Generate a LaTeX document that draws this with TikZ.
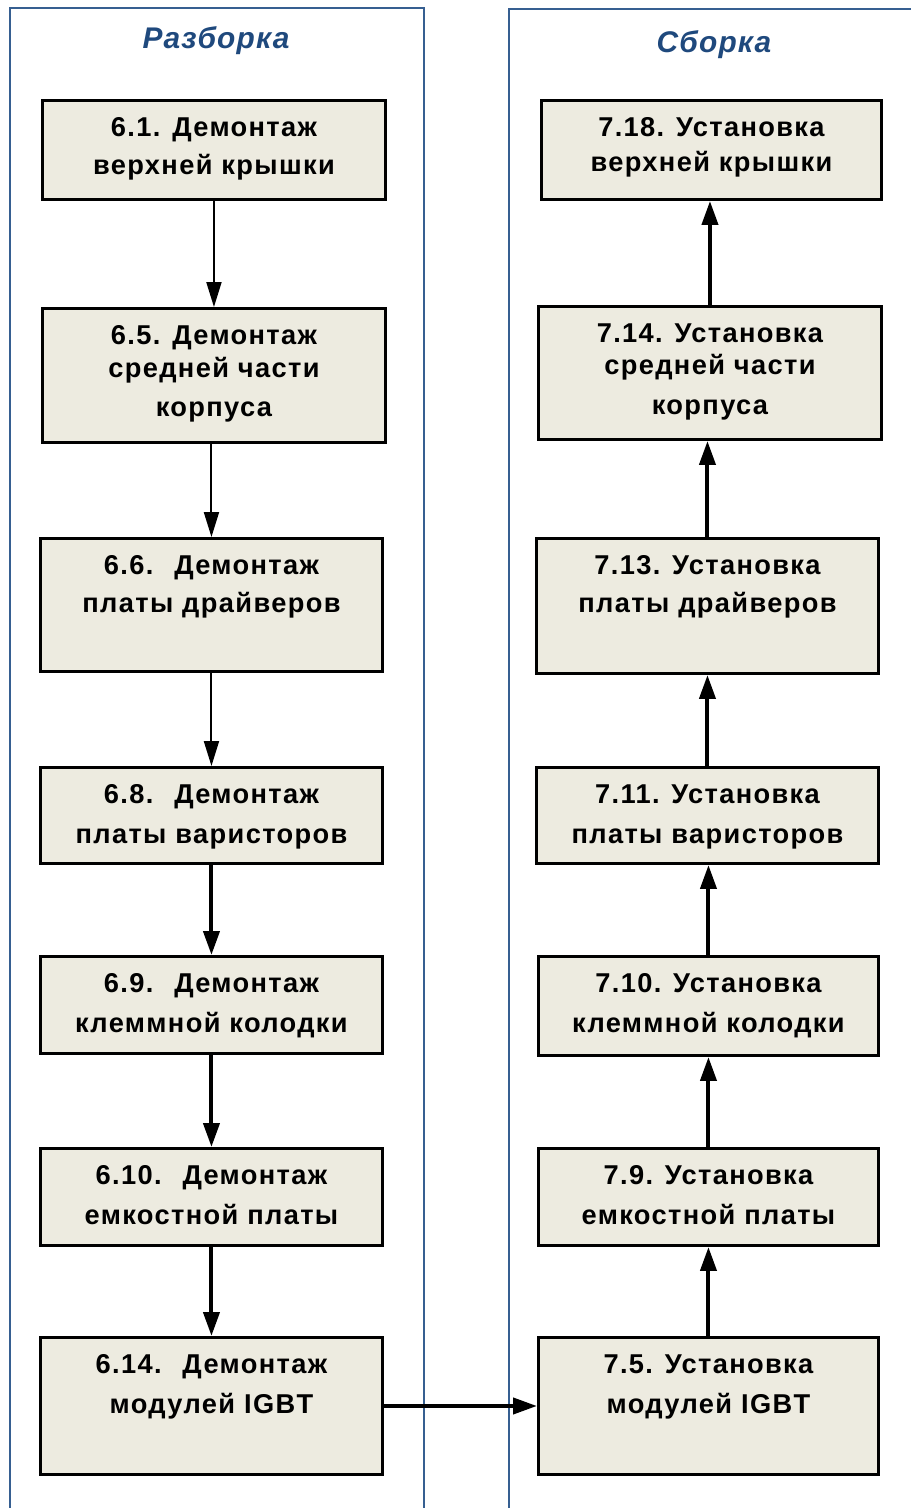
\documentclass[tikz,border=0pt]{standalone}
\usepackage{fontspec}
\setmainfont{Liberation Sans}
\usepackage{tikz}
\usetikzlibrary{arrows.meta, positioning}
\definecolor{panel}{RGB}{54, 95, 145}
\definecolor{heading}{RGB}{31, 73, 125}
\definecolor{boxfill}{RGB}{237, 235, 224}

\tikzset{
  stage/.style={draw=black, line width=1.7pt, fill=boxfill, anchor=north west, inner sep=0pt},
  stagetext/.style={anchor=north, align=center, inner sep=0pt, yshift=-0.36cm,
    font=\fontsize{15.5}{21.5}\selectfont\bfseries\addfontfeature{LetterSpace=5}},
  heading/.style={anchor=base, text=heading, inner sep=0pt,
    font=\fontsize{17}{20}\selectfont\bfseries\itshape\addfontfeature{LetterSpace=4}},
  panelline/.style={draw=panel, line width=1.1pt},
  thinarrow/.style={line width=1.1pt, -{Triangle[length=0.5cm, width=0.3cm]}},
  thickarrow/.style={line width=2.3pt, -{Triangle[length=0.48cm, width=0.32cm]}}
}

\begin{document}
\begin{tikzpicture}[x=0.02cm, y=-0.02cm]
  \useasboundingbox (0,0) rectangle (911,1508);

  \draw[panelline] (10,1520) -- (10,8) -- (424,8) -- (424,1520);
  \draw[panelline] (509,1520) -- (509,9) -- (920,9);
  \node[heading] (hdis) at (216,48) {Разборка};
  \node[heading] (hass) at (714,52) {Сборка};

  % Разборка
  \node[stage, minimum width=6.86cm, minimum height=1.98cm] (d61) at (41,99) {};
  \node[stage, minimum width=6.86cm, minimum height=2.68cm] (d65) at (41,307) {};
  \node[stage, minimum width=6.84cm, minimum height=2.66cm] (d66) at (39,537) {};
  \node[stage, minimum width=6.84cm, minimum height=1.92cm] (d68) at (39,766) {};
  \node[stage, minimum width=6.84cm, minimum height=1.94cm] (d69) at (39,955) {};
  \node[stage, minimum width=6.84cm, minimum height=1.94cm] (d610) at (39,1147) {};
  \node[stage, minimum width=6.84cm, minimum height=2.74cm] (d614) at (39,1336) {};

  \node[stagetext] (t61) at (d61.north) {6.1. Демонтаж\\верхней крышки};
  \node[stagetext] (t65) at (d65.north) {6.5. Демонтаж\\[-0.1cm]средней части\\[0.04cm]корпуса};
  \node[stagetext] (t66) at (d66.north) {6.6.~ Демонтаж\\платы драйверов};
  \node[stagetext] (t68) at (d68.north) {6.8.~ Демонтаж\\[0.05cm]платы варисторов};
  \node[stagetext] (t69) at (d69.north) {6.9.~ Демонтаж\\[0.05cm]клеммной колодки};
  \node[stagetext] (t610) at (d610.north) {6.10.~ Демонтаж\\[0.05cm]емкостной платы};
  \node[stagetext] (t614) at (d614.north) {6.14.~ Демонтаж\\[0.05cm]модулей IGBT};

  % Сборка
  \node[stage, minimum width=6.80cm, minimum height=1.98cm] (d718) at (540,99) {};
  \node[stage, minimum width=6.86cm, minimum height=2.66cm] (d714) at (537,305) {};
  \node[stage, minimum width=6.84cm, minimum height=2.70cm] (d713) at (535,537) {};
  \node[stage, minimum width=6.84cm, minimum height=1.92cm] (d711) at (535,766) {};
  \node[stage, minimum width=6.80cm, minimum height=1.98cm] (d710) at (537,955) {};
  \node[stage, minimum width=6.80cm, minimum height=1.94cm] (d79) at (537,1147) {};
  \node[stage, minimum width=6.80cm, minimum height=2.74cm] (d75) at (537,1336) {};

  \node[stagetext] (t718) at (d718.north) {7.18. Установка\\[-0.05cm]верхней крышки};
  \node[stagetext] (t714) at (d714.north) {7.14. Установка\\[-0.1cm]средней части\\[0.04cm]корпуса};
  \node[stagetext] (t713) at (d713.north) {7.13. Установка\\платы драйверов};
  \node[stagetext] (t711) at (d711.north) {7.11. Установка\\[0.05cm]платы варисторов};
  \node[stagetext] (t710) at (d710.north) {7.10. Установка\\[0.05cm]клеммной колодки};
  \node[stagetext] (t79) at (d79.north) {7.9. Установка\\[0.05cm]емкостной платы};
  \node[stagetext] (t75) at (d75.north) {7.5. Установка\\[0.05cm]модулей IGBT};

  \draw[thinarrow] (d61.south) -- (d61.south |- d65.north);
  \draw[thinarrow] (d66.north |- d65.south) -- (d66.north);
  \draw[thinarrow] (d66.south) -- (d68.north);
  \draw[thickarrow] (d68.south) -- (d69.north);
  \draw[thickarrow] (d69.south) -- (d610.north);
  \draw[thickarrow] (d610.south) -- (d614.north);
  \draw[thickarrow] (d614.east) -- (d75.west);

  \draw[thickarrow] (d75.north) -- (d75.north |- d79.south);
  \draw[thickarrow] (d79.north) -- (d79.north |- d710.south);
  \draw[thickarrow] (d710.north) -- (d710.north |- d711.south);
  \draw[thickarrow] (d711.north) -- (d713.south);
  \draw[thickarrow] (d713.north) -- (d713.north |- d714.south);
  \draw[thickarrow] (d714.north) -- (d714.north |- d718.south);
\end{tikzpicture}
\end{document}
